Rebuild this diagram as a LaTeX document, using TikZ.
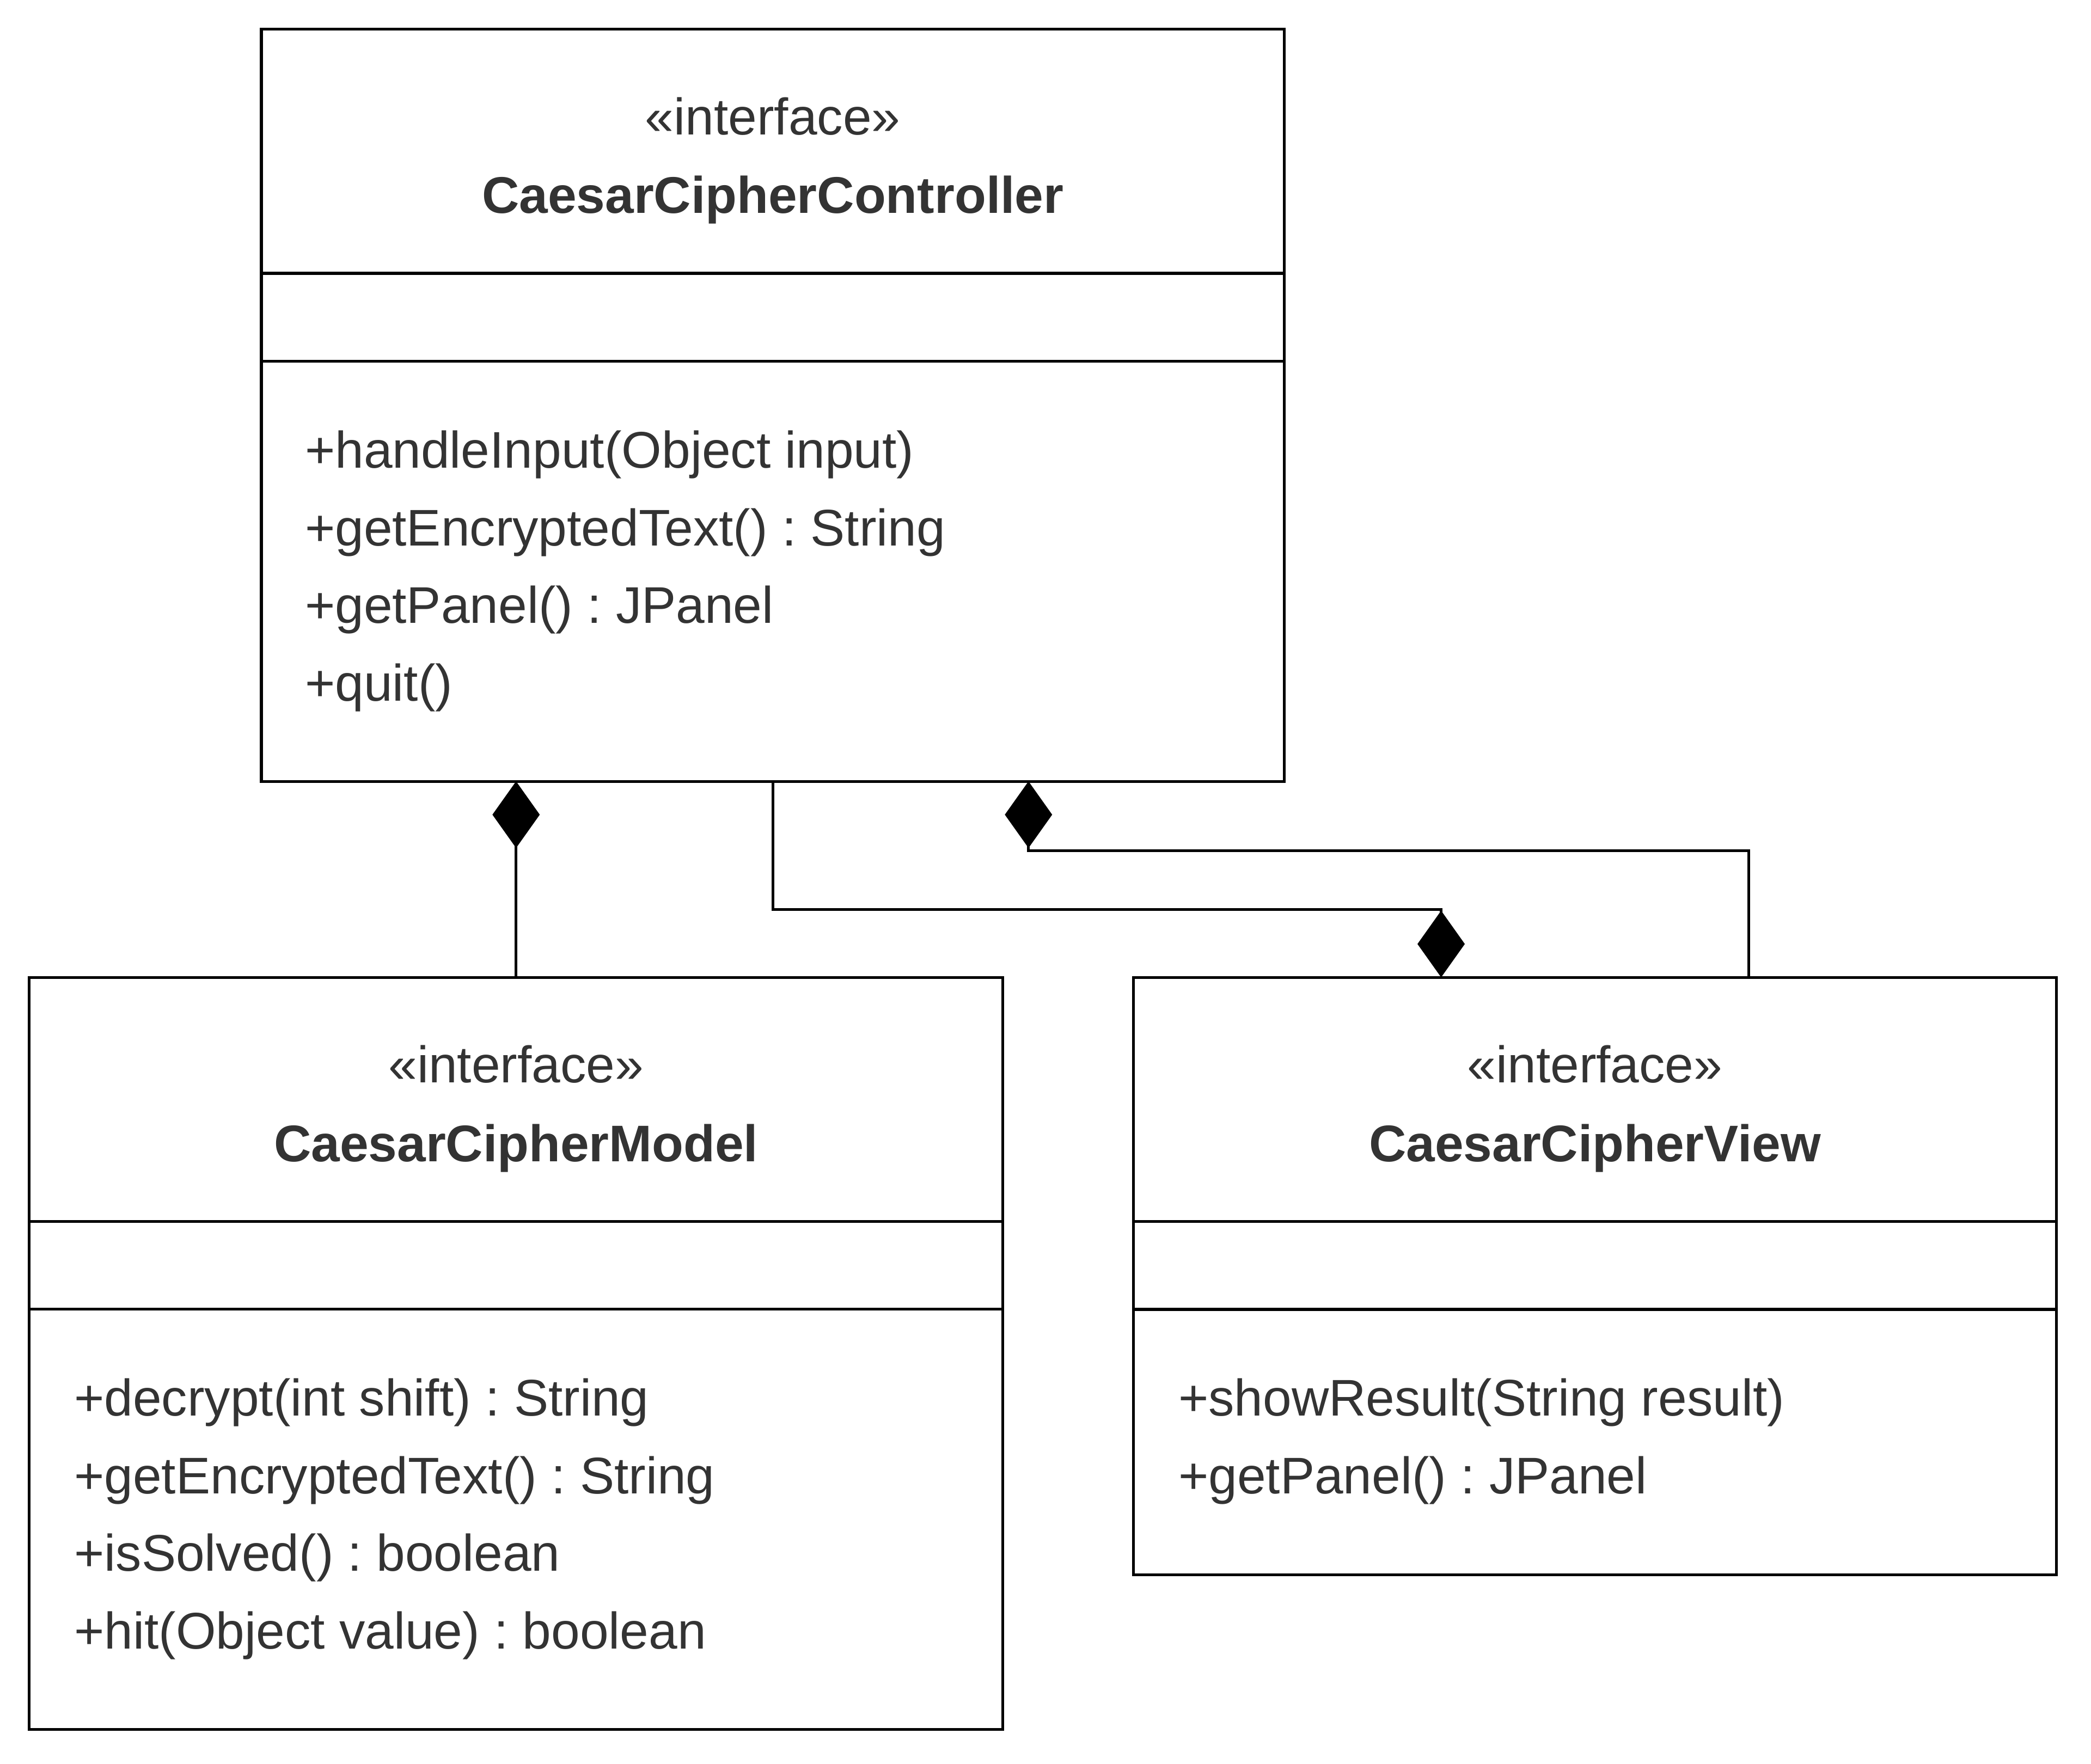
\documentclass[tikz,border=0pt]{standalone}
\usepackage{fontspec}
\setmainfont{Liberation Sans}
\usepackage{xcolor}
\usepackage{tikz}
\usetikzlibrary{arrows.meta,calc}

\definecolor{txt}{HTML}{333333}
\frenchspacing

\begin{document}
\begin{tikzpicture}[
  box/.style={draw, line width=0.6pt, inner sep=0pt, outer sep=0pt},
  sep/.style={line width=0.6pt},
  stereo/.style={anchor=base, inner sep=0pt, text=txt, font=\fontsize{11}{13}\selectfont},
  cname/.style={anchor=base, inner sep=0pt, text=txt, font=\fontsize{11}{13}\selectfont\bfseries},
  op/.style={anchor=base west, inner sep=0pt, text=txt, font=\fontsize{11}{13}\selectfont},
  comp/.style={-{Diamond[length=5mm, width=3.55mm]}, line width=0.6pt}]
  \useasboundingbox (0,0) rectangle (15.68,-13.23);

  % Controller
  \node[box, minimum width=7.67cm, minimum height=5.64cm] (ctrl) at (5.795,-3.04) {};
  \draw[sep] (ctrl.north west) ++(0,-1.83) -- ++(7.67,0);
  \draw[sep] (ctrl.north west) ++(0,-2.49) -- ++(7.67,0);
  \node[stereo] (ctrlst) at ([yshift=-0.79cm]ctrl.north) {«interface»};
  \node[cname] (ctrlname) at ([yshift=-1.38cm]ctrl.north) {CaesarCipherController};
  \node[op] (ctrlop1) at ([shift={(0.32,-3.29)}]ctrl.north west) {+handleInput(Object input)};
  \node[op] (ctrlop2) at ([shift={(0.32,-3.872)}]ctrl.north west) {+getEncryptedText() : String};
  \node[op] (ctrlop3) at ([shift={(0.32,-4.454)}]ctrl.north west) {+getPanel() : JPanel};
  \node[op] (ctrlop4) at ([shift={(0.32,-5.036)}]ctrl.north west) {+quit()};

  % Model
  \node[box, minimum width=7.30cm, minimum height=5.64cm] (model) at (3.87,-10.15) {};
  \draw[sep] (model.north west) ++(0,-1.83) -- ++(7.30,0);
  \draw[sep] (model.north west) ++(0,-2.49) -- ++(7.30,0);
  \node[stereo] (modelst) at ([yshift=-0.79cm]model.north) {«interface»};
  \node[cname] (modelname) at ([yshift=-1.38cm]model.north) {CaesarCipherModel};
  \node[op] (modelop1) at ([shift={(0.33,-3.29)}]model.north west) {+decrypt(int shift) : String};
  \node[op] (modelop2) at ([shift={(0.33,-3.872)}]model.north west) {+getEncryptedText() : String};
  \node[op] (modelop3) at ([shift={(0.33,-4.454)}]model.north west) {+isSolved() : boolean};
  \node[op] (modelop4) at ([shift={(0.33,-5.036)}]model.north west) {+hit(Object value) : boolean};

  % View
  \node[box, minimum width=6.92cm, minimum height=4.48cm] (view) at (11.96,-9.57) {};
  \draw[sep] (view.north west) ++(0,-1.83) -- ++(6.92,0);
  \draw[sep] (view.north west) ++(0,-2.49) -- ++(6.92,0);
  \node[stereo] (viewst) at ([yshift=-0.79cm]view.north) {«interface»};
  \node[cname] (viewname) at ([yshift=-1.38cm]view.north) {CaesarCipherView};
  \node[op] (viewop1) at ([shift={(0.33,-3.29)}]view.north west) {+showResult(String result)};
  \node[op] (viewop2) at ([shift={(0.33,-3.872)}]view.north west) {+getPanel() : JPanel};

  % composition links
  \coordinate (ctrlq) at ($(ctrl.south west)!0.75!(ctrl.south east)$);
  \coordinate (viewa) at ($(view.north west)!1/3!(view.north east)$);
  \coordinate (viewb) at ($(view.north west)!2/3!(view.north east)$);

  \draw[comp] (model.north) -- (model.north |- ctrl.south);
  \draw[comp] (ctrl.south) -- ++(0,-0.96) -| (viewa);
  \draw[comp] (viewb) -- ++(0,0.95) -| (ctrlq);
\end{tikzpicture}
\end{document}
